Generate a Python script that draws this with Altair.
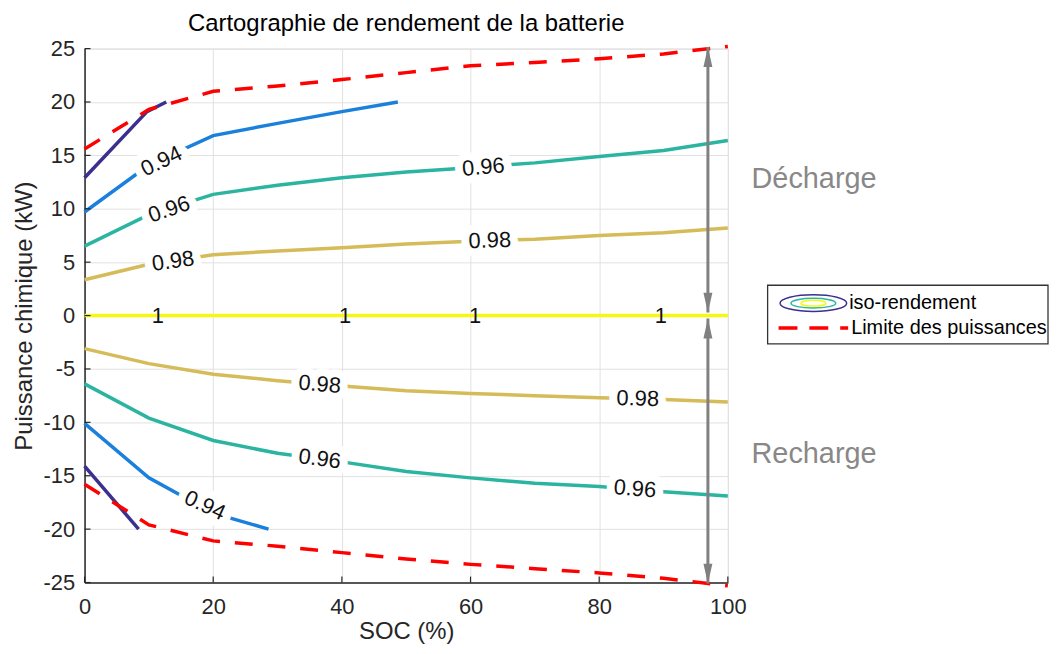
import altair as alt
import pandas as pd

FONT = "Liberation Sans"

# ---------------- data ----------------
SOC_GRID = [0, 10, 20, 30, 40, 50, 60, 70, 80, 90, 100]

LIMIT_UP = [15.6, 19.3, 21.0, 21.5, 22.1, 22.75, 23.4, 23.7, 24.05, 24.5, 25.2]
LIMIT_DOWN = [-15.8, -19.6, -21.1, -21.6, -22.2, -22.8, -23.3, -23.7, -24.1, -24.6, -25.3]

ISO100 = [0, 0, 0, 0, 0, 0, 0, 0, 0, 0, 0]
ISO98_UP = [3.35, 4.8, 5.7, 6.05, 6.36, 6.7, 6.95, 7.15, 7.5, 7.75, 8.2]
ISO98_DOWN = [-3.1, -4.5, -5.5, -6.1, -6.6, -7.05, -7.3, -7.5, -7.7, -7.85, -8.1]
ISO96_UP = [6.5, 9.45, 11.35, 12.2, 12.9, 13.45, 13.85, 14.3, 14.9, 15.45, 16.4]
ISO96_DOWN = [-6.4, -9.6, -11.7, -12.9, -13.7, -14.6, -15.2, -15.7, -16.0, -16.5, -16.9]

ISO94_UP_SOC = [0, 10, 20, 30, 40, 48.7]
ISO94_UP = [9.7, 14.1, 16.85, 18.0, 19.1, 20.0]
ISO94_DOWN_SOC = [0, 10, 20, 28.6]
ISO94_DOWN = [-10.1, -15.2, -18.5, -20.0]

ISO92_UP_SOC = [0, 9.7, 12.7]
ISO92_UP = [12.9, 19.1, 20.0]
ISO92_DOWN_SOC = [0, 8.4]
ISO92_DOWN = [-14.1, -20.0]

LEVELS = ["0.92", "0.94", "0.96", "0.98", "1"]
LEVEL_COLORS = ["#3b2f8f", "#1a80dc", "#2bb5a0", "#d5bb5a", "#f7f714"]

LABEL_TEXT = ["0.94", "0.96", "0.98", "0.96", "0.98", "0.98", "0.96", "0.94",
              "0.98", "0.96", "1", "1", "1", "1"]
LABEL_SOC = [11.95, 13.15, 13.75, 62.0, 63.0, 36.55, 36.55, 18.7,
             86.0, 85.55, 11.4, 40.5, 60.7, 89.6]
LABEL_P = [14.45, 9.95, 5.1, 13.9, 7.03, -6.44, -13.42, -17.77,
           -7.77, -16.22, 0, 0, 0, 0]
LABEL_ANGLE = [334, 341, 352, 355, 358, 4.5, 7.5, 25, 1.5, 4.5, 0, 0, 0, 0]
LABEL_HALO = [16, 16, 16, 16, 16, 16, 16, 16, 16, 16, 0, 0, 0, 0]

ARROW_SOC = [96.9, 96.9]
ARROW_TOP = [25.15, -0.28]
ARROW_BOTTOM = [0.28, -25.1]

ANNOT_TEXT = ["Décharge", "Recharge"]
ANNOT_SOC = [113.4, 113.4]
ANNOT_P = [12.75, -13.0]

X_TICKS = [0, 20, 40, 60, 80, 100]
Y_TICKS = [-25, -20, -15, -10, -5, 0, 5, 10, 15, 20, 25]

LEGEND_TEXT = ["iso-rendement", "Limite des puissances"]

# ---------------- tables ----------------
rows = []


def add(name, level, socs, ps):
    for i, (s, p) in enumerate(zip(socs, ps)):
        rows.append(dict(curve=name, level=level, soc=s, p=p, ord=i))


add("c100", "1", SOC_GRID, ISO100)
add("c98u", "0.98", SOC_GRID, ISO98_UP)
add("c98d", "0.98", SOC_GRID, ISO98_DOWN)
add("c96u", "0.96", SOC_GRID, ISO96_UP)
add("c96d", "0.96", SOC_GRID, ISO96_DOWN)
add("c94u", "0.94", ISO94_UP_SOC, ISO94_UP)
add("c94d", "0.94", ISO94_DOWN_SOC, ISO94_DOWN)
add("c92u", "0.92", ISO92_UP_SOC, ISO92_UP)
add("c92d", "0.92", ISO92_DOWN_SOC, ISO92_DOWN)
iso_df = pd.DataFrame(rows)

lim_rows = []
for i, s in enumerate(SOC_GRID):
    lim_rows.append(dict(curve="up", soc=s, p=LIMIT_UP[i], ord=i))
    lim_rows.append(dict(curve="down", soc=s, p=LIMIT_DOWN[i], ord=i))
lim_df = pd.DataFrame(lim_rows)

lab_df = pd.DataFrame(dict(txt=LABEL_TEXT, soc=LABEL_SOC, p=LABEL_P,
                           ang=LABEL_ANGLE, halo=LABEL_HALO))
arrow_df = pd.DataFrame(dict(soc=ARROW_SOC, p=ARROW_TOP, p2=ARROW_BOTTOM))
ann_df = pd.DataFrame(dict(txt=ANNOT_TEXT, soc=ANNOT_SOC, p=ANNOT_P))
xt_df = pd.DataFrame(dict(soc=X_TICKS))
yt_df = pd.DataFrame(dict(p=Y_TICKS))
one = pd.DataFrame(dict(a=[0]))

# ---------------- scales / axes ----------------
W, H = 647, 537
INK = "#262626"
xs = alt.Scale(domain=[0, 100], nice=False, zero=False)
ys = alt.Scale(domain=[-25, 25], nice=False, zero=False)

xaxis = alt.Axis(values=X_TICKS, title="SOC (%)", grid=True, gridColor="#e1e1e1",
                 domainColor=INK, domainWidth=1.5, ticks=False, labelFontSize=22,
                 labelFont=FONT, labelColor=INK, labelPadding=14, labelFlush=False,
                 labelExpr="'' + datum.value",
                 titleFontSize=24, titleFont=FONT, titleFontWeight="normal",
                 titleColor=INK, titleX=W / 2, titleY=56, titleBaseline="alphabetic",
                 titleAlign="center")
yaxis = alt.Axis(values=Y_TICKS, title="Puissance chimique (kW)", grid=True,
                 gridColor="#e1e1e1", domainColor=INK, domainWidth=1.5, ticks=False,
                 labelFontSize=22, labelFont=FONT, labelColor=INK, labelPadding=10,
                 labelFlush=False, labelExpr="'' + datum.value",
                 titleFontSize=24, titleFont=FONT,
                 titleFontWeight="normal", titleColor=INK, titleX=-60, titleY=H / 2,
                 titleAngle=270, titleBaseline="middle", titleAlign="center")

X = alt.X("soc:Q", scale=xs, axis=xaxis)
Y = alt.Y("p:Q", scale=ys, axis=yaxis)

# ---------------- layers ----------------
iso = alt.Chart(iso_df).mark_line(strokeWidth=3.5, clip=False).encode(
    x=X, y=Y,
    color=alt.Color("level:N", scale=alt.Scale(domain=LEVELS, range=LEVEL_COLORS),
                    legend=None),
    detail="curve:N", order="ord:Q")

limit = alt.Chart(lim_df).mark_line(color="#ff0000", strokeWidth=3.5,
                                    strokeDash=[18, 15], clip=False).encode(
    x=X, y=Y, detail="curve:N", order="ord:Q")

halo = alt.Chart(lab_df).mark_text(font=FONT, fontSize=22, fill="white",
                                   stroke="white", strokeJoin="round",
                                   align="center", baseline="middle").encode(
    x=X, y=Y, text="txt:N", angle=alt.Angle("ang:Q", scale=None),
    strokeWidth=alt.StrokeWidth("halo:Q", scale=None))

labels = alt.Chart(lab_df).mark_text(font=FONT, fontSize=22, color="#111111",
                                     align="center", baseline="middle").encode(
    x=X, y=Y, text="txt:N", angle=alt.Angle("ang:Q", scale=None))

shaft = alt.Chart(arrow_df).mark_rule(color="#808080", strokeWidth=3).encode(
    x=X, y=Y, y2="p2:Q")
head_up = alt.Chart(arrow_df).mark_point(shape="M0,0L0.45,2L-0.45,2Z", size=400,
                                         filled=True, color="#808080",
                                         opacity=1).encode(x=X, y=Y)
head_down = alt.Chart(arrow_df).mark_point(shape="M0,0L0.45,-2L-0.45,-2Z", size=400,
                                           filled=True, color="#808080",
                                           opacity=1).encode(
    x=X, y=alt.Y("p2:Q", scale=ys, axis=yaxis))

annot = alt.Chart(ann_df).mark_text(font=FONT, fontSize=29, color="#888888",
                                    align="center", baseline="middle").encode(
    x=X, y=Y, text="txt:N")

ytick = alt.Chart(yt_df).mark_rule(color=INK, strokeWidth=1.2).encode(
    y=Y, x=alt.value(0), x2=alt.value(6))
xtick = alt.Chart(xt_df).mark_rule(color=INK, strokeWidth=1.2).encode(
    x=X, y=alt.value(H), y2=alt.value(H - 6))

# legend (drawn by hand)
LX0, LX1, LY0, LY1 = 687, 969, 238, 297
leg_box = alt.Chart(one).mark_rect(fill="white", stroke="#333333",
                                   strokeWidth=1.3).encode(
    x=alt.value(LX0), x2=alt.value(LX1), y=alt.value(LY0), y2=alt.value(LY1))


def ellipse(ry):
    return f"M-1,0A1,{ry},0,1,1,1,0A1,{ry},0,1,1,-1,0Z"


leg_e1 = alt.Chart(one).mark_point(shape=ellipse(0.25), size=67 * 67, filled=False,
                                   color=LEVEL_COLORS[0], strokeWidth=1.5,
                                   opacity=1).encode(x=alt.value(733), y=alt.value(256))
leg_e2 = alt.Chart(one).mark_point(shape=ellipse(0.22), size=45 * 45, filled=False,
                                   color=LEVEL_COLORS[2], strokeWidth=1.5,
                                   opacity=1).encode(x=alt.value(733), y=alt.value(256))
leg_e3 = alt.Chart(one).mark_point(shape=ellipse(0.24), size=25 * 25, filled=False,
                                   color=LEVEL_COLORS[4], strokeWidth=1.5,
                                   opacity=1).encode(x=alt.value(733), y=alt.value(256))
leg_dash = alt.Chart(one).mark_rule(color="#ff0000", strokeWidth=3.5,
                                    strokeDash=[19, 12]).encode(
    x=alt.value(698), x2=alt.value(768), y=alt.value(281))
leg_t1 = alt.Chart(one).mark_text(font=FONT, fontSize=20, color="black", align="left",
                                  baseline="middle", text=LEGEND_TEXT[0]).encode(
    x=alt.value(769), y=alt.value(256))
leg_t2 = alt.Chart(one).mark_text(font=FONT, fontSize=20, color="black", align="left",
                                  baseline="middle", text=LEGEND_TEXT[1]).encode(
    x=alt.value(771), y=alt.value(281))

chart = alt.layer(
    iso, limit, halo, labels, shaft, head_up, head_down, annot, ytick, xtick,
    leg_box, leg_e1, leg_e2, leg_e3, leg_dash, leg_t1, leg_t2
).properties(
    width=W, height=H,
    title=alt.TitleParams(text="Cartographie de rendement de la batterie",
                          fontSize=24, font=FONT, fontWeight="normal", color="black",
                          anchor="middle", offset=2),
    autosize=alt.AutoSizeParams(type="none"),
    padding={"left": 77, "top": 39, "right": 323, "bottom": 61},
).configure_view(stroke=None).configure(background="white")

chart.save("out.html", embed_options={"renderer": "svg", "actions": False})
